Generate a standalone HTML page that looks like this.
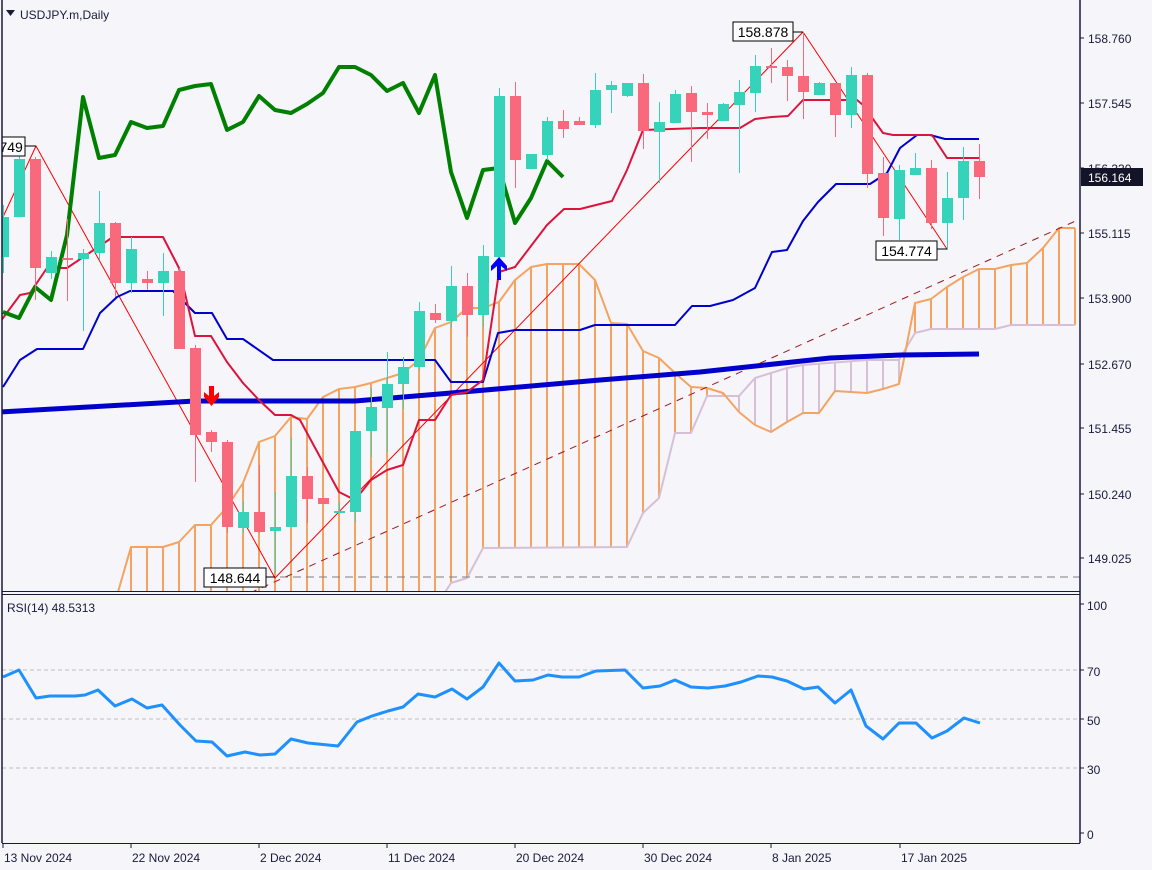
<!DOCTYPE html>
<html><head><meta charset="utf-8">
<style>
html,body{margin:0;padding:0;background:#f5f5fa;}
svg{display:block;font-family:"Liberation Sans",sans-serif;}
</style></head>
<body>
<svg id="s" width="1152" height="870" viewBox="0 0 1152 870" xmlns="http://www.w3.org/2000/svg">
<rect width="1152" height="870" fill="#f5f5fa"/>
<defs><clipPath id="mc"><rect x="2" y="0" width="1078" height="591"/></clipPath>
<clipPath id="rc"><rect x="2" y="596" width="1078" height="247"/></clipPath></defs>
<g id="main" clip-path="url(#mc)"></g>
<g id="rsi" clip-path="url(#rc)"></g>
<g id="ax"></g>
</svg>
<script>
const NS="http://www.w3.org/2000/svg";
function el(p,t,a,txt){const e=document.createElementNS(NS,t);for(const k in a)e.setAttribute(k,a[k]);if(txt!==undefined)e.textContent=txt;document.getElementById(p).appendChild(e);return e;}
function pl(p,pts,st,w,extra){const a={points:pts.map(q=>q.join(',')).join(' '),fill:'none',stroke:st,'stroke-width':w,'stroke-linejoin':'round'};Object.assign(a,extra||{});return el(p,'polyline',a);}
function interp(pts,x){if(x<pts[0][0]||x>pts[pts.length-1][0])return null;for(let i=0;i<pts.length-1;i++){const a=pts[i],b=pts[i+1];if(x>=a[0]&&x<=b[0]){return b[0]==a[0]?a[1]:a[1]+(b[1]-a[1])*(x-a[0])/(b[0]-a[0]);}}return null;}
const X=i=>3+16*i;
// cloud
const A=[[118,592],[131,547],[163,547],[179,542],[195,525],[211,525],[227,507],[243,483],[259,442],[275,436],[291,417],[307,419],[323,397],[339,389],[355,387],[371,383],[387,378],[403,373],[419,360],[435,328],[451,322],[467,308],[483,308],[499,302],[515,280],[531,267],[547,264],[579,264],[595,280],[611,323],[627,324],[643,351],[659,358],[675,373],[691,387],[707,388],[723,393],[739,412],[755,425],[771,432],[787,422],[803,413],[819,413],[835,391],[851,392],[867,393],[883,389],[899,384],[915,303],[931,299],[947,287],[963,277],[979,269],[995,269],[1011,265],[1027,263],[1043,248],[1059,228],[1075,228]];
const B=[[440,600],[451,583],[467,578],[483,548],[627,547],[643,513],[659,498],[675,433],[691,433],[707,396],[739,396],[755,378],[771,373],[787,368],[803,365],[867,360],[899,360],[915,333],[931,329],[995,329],[1011,325],[1075,325]];
for(let i=7;i<=67;i++){const x=X(i);const a=interp(A,x);if(a===null)continue;let b=interp(B,x);if(b===null)b=600;
 el('main','line',{x1:x,y1:a,x2:x,y2:b,stroke:a<=b?'#f4a460':'#d8bfd8','stroke-width':2});}
pl('main',B,'#d8bfd8',2);
pl('main',A,'#f4a460',2);
// dashed horizontal
el('main','line',{x1:267,y1:577,x2:1080,y2:577,stroke:'#808080','stroke-width':1,'stroke-dasharray':'8,5'});
// dashed trend
el('main','line',{x1:250,y1:593,x2:1080,y2:219,stroke:'#a01818','stroke-width':1,'stroke-dasharray':'7,6'});
// zigzag
pl('main',[[3,217],[36,146],[275,578],[803,32],[947,249]],'#ff0000',1);
// MA thick
pl('main',[[0,412],[195,401],[355,401],[451,393],[600,380],[700,372],[830,358],[900,355],[979,354]],'#0000cd',5);
// blue kijun
pl('main',[[3,387],[20,360],[37,349],[83,349],[100,313],[117,297],[130,291],[173,291],[195,313],[212,313],[227,339],[243,339],[273,360],[435,360],[451,382],[483,382],[498,333],[515,330],[580,330],[595,325],[675,325],[692,306],[710,306],[733,300],[755,288],[772,252],[787,250],[803,221],[818,202],[836,184],[870,184],[887,173],[900,148],[917,135],[930,135],[945,139],[979,139]],'#0000cd',2);
// red tenkan
pl('main',[[0,322],[20,295],[30,293],[47,268],[67,268],[113,237],[163,237],[179,268],[195,336],[211,336],[227,362],[243,383],[259,400],[275,415],[291,415],[300,420],[339,492],[355,500],[371,480],[387,470],[403,465],[419,420],[435,420],[451,395],[467,392],[483,380],[499,272],[515,267],[547,225],[564,209],[580,209],[612,201],[627,170],[643,130],[700,128],[740,128],[755,119],[772,117],[788,116],[803,100],[857,100],[863,105],[883,133],[893,135],[932,135],[947,158],[979,158]],'#dc143c',2);
// chikou green
pl('main',[[3,312],[19,318],[35,287],[51,300],[67,235],[83,97],[99,158],[115,155],[131,122],[147,128],[163,126],[179,90],[195,86],[211,84],[227,130],[243,122],[259,96],[275,110],[291,113],[307,104],[323,93],[339,67],[355,67],[371,75],[387,91],[403,83],[419,113],[435,75],[451,172],[467,218],[483,170],[499,168],[515,223],[531,198],[547,161],[563,177]],'#008000',4);
// candles
const C=[['g',217,257,205,273],['g',159,217,155,217],['r',159,268,157,300],['g',257,273,251,279],['r',258,260,219,301],['g',253,259,249,331],['g',223,253,191,260],['r',223,283,222,297],['g',249,283,237,293],['r',279,283,271,290],['g',271,283,253,316],['r',271,349,268,349],['r',348,435,345,482],['r',432,442,430,452],['r',442,527,440,533],['g',512,528,501,533],['r',512,532,465,533],['g',527,531,492,573],['g',476,527,438,527],['r',476,499,467,523],['r',498,504,498,504],['g',511,513,502,513],['g',431,512,431,522],['g',407,431,388,457],['g',384,408,352,452],['g',367,384,357,409],['g',311,367,302,370],['r',313,320,304,323],['g',286,321,266,328],['r',286,315,273,337],['g',256,315,245,327],['g',96,257,88,262],['r',96,160,82,188],['g',154,169,154,169],['g',121,155,117,160],['r',121,129,110,138],['r',121,125,117,125],['g',90,125,73,128],['g',85,90,81,113],['g',83,96,83,97],['r',83,131,74,149],['g',122,132,102,183],['g',94,123,90,123],['r',93,112,86,162],['r',112,115,103,139],['g',104,121,103,121],['g',92,105,80,173],['g',66,93,55,112],['r',66,68,48,83],['r',67,76,60,101],['r',76,92,32,119],['g',83,95,82,95],['r',83,115,83,137],['g',75,115,67,128],['r',75,174,73,188],['r',173,218,157,236],['g',170,219,165,240],['g',168,175,153,175],['r',168,223,160,229],['g',198,223,172,250],['g',161,198,147,220],['r',161,177,144,199]];
C.forEach((c,i)=>{const x=X(i),col=c[0]=='g'?'#35d3b9':'#f7697b';
 el('main','line',{x1:x+0.5,y1:c[3],x2:x+0.5,y2:c[4],stroke:col,'stroke-width':1});
 el('main','rect',{x:x-5,y:c[1],width:11,height:Math.max(2,c[2]-c[1]),fill:col});});
// arrows
el('main','path',{d:'M209 386 h5 v10 l5 -4 v5 l-7.5 9 l-7.5 -9 v-5 l5 4z',fill:'#ff0000'});
el('main','path',{d:'M499 257 l8 9 v5 l-6 -5 v14 h-4 v-14 l-6 5 v-5z',fill:'#0000ff'});
// labels boxes
function box(x,y,w,t){el('main','rect',{x:x,y:y,width:w,height:19,fill:'#fff',stroke:'#000','stroke-width':1});el('main','text',{x:x+w/2,y:y+15,'font-size':14,'text-anchor':'middle',fill:'#000'},t);}
box(204,568,62,'148.644');el('main','line',{x1:266,y1:577,x2:275,y2:577,stroke:'#000'});
box(733,22,60,'158.878');el('main','line',{x1:793,y1:32,x2:803,y2:32,stroke:'#000'});
box(876,241,61,'154.774');el('main','line',{x1:937,y1:249,x2:947,y2:249,stroke:'#000'});
box(-30,137,55,'158.749');el('main','line',{x1:25,y1:146,x2:36,y2:146,stroke:'#000'});
// title
el('ax','path',{d:'M6 10 h9 l-4.5 6z',fill:'#1a1a3a'});
el('ax','text',{x:20,y:19,'font-size':12,fill:'#1a1a3a'},'USDJPY.m,Daily');
// RSI
[[670],[719],[768]].forEach(v=>el('rsi','line',{x1:2,y1:v[0],x2:1080,y2:v[0],stroke:'#c0c0c0','stroke-width':1,'stroke-dasharray':'4,3'}));
pl('rsi',[[3,677],[19,670],[36,698],[50,696],[75,696],[85,695],[98,690],[115,706],[132,699],[147,708],[162,705],[180,725],[196,741],[212,742],[227,756],[245,752],[260,755],[275,754],[291,739],[308,743],[338,746],[357,722],[372,716],[388,711],[403,707],[418,694],[435,697],[452,689],[467,699],[483,687],[499,663],[515,681],[533,680],[548,675],[562,677],[579,677],[596,671],[625,670],[643,688],[660,686],[675,680],[691,687],[708,688],[725,686],[741,682],[758,676],[772,677],[787,681],[804,689],[818,687],[835,703],[851,690],[866,726],[883,739],[899,723],[916,723],[932,738],[947,731],[964,718],[980,723]],'#1e90ff',3);
el('ax','text',{x:7,y:612,'font-size':12,fill:'#1a1a3a'},'RSI(14) 48.5313');
// frames
el('ax','line',{x1:2,y1:0,x2:2,y2:843,stroke:'#1a1a3a','stroke-width':1.5});
el('ax','line',{x1:1080,y1:0,x2:1080,y2:843,stroke:'#1a1a3a','stroke-width':1.5});
el('ax','line',{x1:2,y1:591.5,x2:1080,y2:591.5,stroke:'#1a1a3a','stroke-width':1});
el('ax','line',{x1:2,y1:594.5,x2:1080,y2:594.5,stroke:'#1a1a3a','stroke-width':1});
el('ax','line',{x1:2,y1:843.5,x2:1080,y2:843.5,stroke:'#1a1a3a','stroke-width':1});
// price axis
[['158.760',38],['157.545',103],['156.330',168],['155.115',233],['153.900',298],['152.670',364],['151.455',428],['150.240',494],['149.025',558]].forEach(p=>{
 el('ax','line',{x1:1080,y1:p[1],x2:1084,y2:p[1],stroke:'#1a1a3a'});
 el('ax','text',{x:1088,y:p[1]+5,'font-size':12,fill:'#1a1a3a'},p[0]);});
el('ax','rect',{x:1081,y:168,width:62,height:18,fill:'#141428'});
el('ax','text',{x:1088,y:182,'font-size':12,fill:'#fff'},'156.164');
[['100',605],['70',671],['50',720],['30',769],['0',834]].forEach(p=>{
 el('ax','line',{x1:1080,y1:p[1]-1,x2:1084,y2:p[1]-1,stroke:'#1a1a3a'});
 el('ax','text',{x:1087,y:p[1]+5,'font-size':12,fill:'#1a1a3a'},p[0]);});
// date axis
[['13 Nov 2024',3],['22 Nov 2024',131],['2 Dec 2024',259],['11 Dec 2024',387],['20 Dec 2024',515],['30 Dec 2024',643],['8 Jan 2025',771],['17 Jan 2025',900]].forEach(d=>{
 el('ax','line',{x1:d[1],y1:843,x2:d[1],y2:848,stroke:'#1a1a3a'});
 el('ax','text',{x:d[1]+1,y:862,'font-size':12,fill:'#1a1a3a'},d[0]);});
</script>
</body></html>
